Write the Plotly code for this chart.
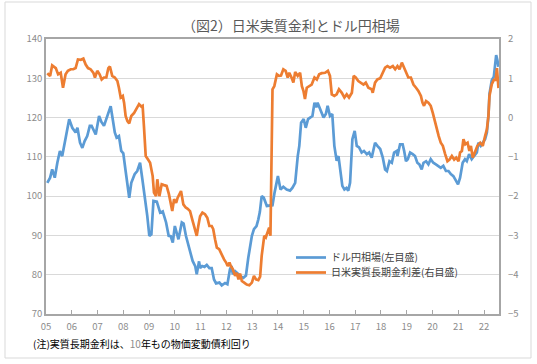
import plotly.graph_objects as go

# ---- data (decimal years) ----
usdjpy_t = [2005.05, 2005.16, 2005.24, 2005.34, 2005.44, 2005.54, 2005.63, 2005.72, 2005.83, 2005.90,
            2006.02, 2006.15, 2006.22, 2006.32, 2006.41, 2006.50, 2006.60, 2006.70, 2006.77, 2006.86, 2006.93,
            2007.06, 2007.15, 2007.25, 2007.38, 2007.51, 2007.57, 2007.67, 2007.74, 2007.83, 2007.92,
            2008.00, 2008.09, 2008.23, 2008.31, 2008.44, 2008.54, 2008.65, 2008.74, 2008.83, 2008.93,
            2009.01, 2009.09, 2009.17, 2009.30, 2009.43, 2009.53, 2009.66, 2009.76, 2009.84, 2009.92,
            2010.00, 2010.14, 2010.27, 2010.34, 2010.43, 2010.56, 2010.69, 2010.79, 2010.85, 2010.94, 2010.98,
            2011.06, 2011.15, 2011.24, 2011.34, 2011.43, 2011.52, 2011.60, 2011.73, 2011.82, 2011.95,
            2012.04, 2012.14, 2012.20, 2012.25, 2012.34, 2012.47, 2012.56, 2012.66, 2012.76, 2012.85, 2012.99,
            2013.07, 2013.17, 2013.24, 2013.30, 2013.37, 2013.45, 2013.57, 2013.68, 2013.79, 2013.87,
            2014.00, 2014.10, 2014.21, 2014.34, 2014.47, 2014.56, 2014.67, 2014.77, 2014.83, 2014.90,
            2015.00, 2015.08, 2015.17, 2015.25, 2015.34, 2015.42, 2015.49, 2015.54, 2015.68, 2015.77, 2015.86, 2015.93,
            2016.02, 2016.11, 2016.19, 2016.28, 2016.35, 2016.41, 2016.50, 2016.58, 2016.66, 2016.73, 2016.80, 2016.89, 2016.98,
            2017.06, 2017.15, 2017.25, 2017.34, 2017.45, 2017.54, 2017.64, 2017.72, 2017.77, 2017.86, 2017.97,
            2018.07, 2018.16, 2018.23, 2018.33, 2018.42, 2018.51, 2018.61, 2018.64, 2018.74, 2018.84, 2018.90, 2018.97,
            2019.04, 2019.13, 2019.23, 2019.32, 2019.41, 2019.49, 2019.58, 2019.65, 2019.75, 2019.84, 2019.93,
            2020.03, 2020.13, 2020.23, 2020.32, 2020.42, 2020.52, 2020.62, 2020.71, 2020.81, 2020.91, 2020.99,
            2021.07, 2021.17, 2021.26, 2021.33, 2021.42, 2021.52, 2021.61, 2021.72, 2021.78, 2021.87, 2021.95,
            2022.04, 2022.11, 2022.17, 2022.21, 2022.30, 2022.38, 2022.47, 2022.52, 2022.56]
usdjpy_v = [103.4, 104.7, 106.8, 104.7, 108.5, 111.5, 110.2, 113.6, 117.0, 119.6,
            117.4, 116.2, 117.4, 113.6, 112.3, 114.0, 115.3, 117.9, 117.9, 116.6, 115.7,
            120.4, 118.9, 117.9, 120.4, 122.9, 120.4, 116.2, 114.9, 115.3, 111.5,
            110.9, 106.4, 99.6, 103.4, 105.6, 106.4, 108.5, 104.3, 100.0, 95.0,
            89.9, 90.3, 98.8, 98.6, 95.8, 96.1, 93.3, 89.9, 89.8, 88.2,
            92.4, 89.0, 93.3, 93.0, 89.9, 86.5, 83.5, 82.2, 80.1, 83.4, 81.7,
            82.2, 82.0, 82.5, 81.7, 81.7, 78.8, 77.8, 78.0, 77.3, 77.9,
            77.6, 81.4, 82.2, 80.1, 80.9, 80.0, 79.6, 79.2, 79.8, 84.3, 89.9,
            91.6, 92.4, 94.1, 96.0, 100.0, 99.6, 97.5, 97.7, 97.7, 100.9,
            105.1, 101.7, 102.4, 101.7, 101.4, 102.1, 103.4, 110.2, 112.8, 118.7,
            119.6, 117.4, 119.6, 120.0, 120.4, 123.8, 122.6, 123.8, 121.3, 120.0, 120.9, 123.0,
            120.4, 120.9, 112.8, 109.0, 110.2, 106.8, 102.6, 101.7, 102.1, 101.4, 103.4, 114.5, 116.6,
            112.8, 112.4, 111.1, 111.5, 110.7, 111.1, 109.8, 112.8, 113.6, 112.8, 112.0,
            109.8, 106.8, 106.4, 108.9, 108.5, 111.1, 111.5, 110.2, 113.2, 113.2, 111.5, 108.9,
            109.4, 111.1, 110.7, 110.2, 108.5, 108.1, 106.8, 108.5, 108.9, 108.1, 109.4,
            108.5, 108.1, 107.7, 107.2, 107.7, 106.4, 106.4, 105.6, 105.1, 103.9, 103.0,
            104.7, 108.5, 109.4, 108.9, 110.7, 109.4, 110.2, 111.1, 113.6, 112.8, 113.6,
            114.5, 116.2, 120.4, 126.0, 129.5, 130.4, 135.9, 134.5, 132.9]

spread_t = [2005.05, 2005.16, 2005.24, 2005.38, 2005.47, 2005.57, 2005.66, 2005.76, 2005.85, 2005.96,
            2006.06, 2006.15, 2006.24, 2006.35, 2006.45, 2006.54, 2006.63, 2006.73, 2006.84, 2006.90, 2006.99,
            2007.08, 2007.16, 2007.25, 2007.34, 2007.42, 2007.48, 2007.57, 2007.67, 2007.77, 2007.83, 2007.90, 2007.98,
            2008.03, 2008.09, 2008.16, 2008.23, 2008.31, 2008.42, 2008.52, 2008.61, 2008.70, 2008.75, 2008.80, 2008.87, 2008.96,
            2009.04, 2009.14, 2009.19, 2009.27, 2009.32, 2009.40, 2009.49, 2009.58, 2009.68, 2009.77, 2009.84, 2009.90, 2009.97,
            2010.05, 2010.11, 2010.17, 2010.24, 2010.33, 2010.42, 2010.50, 2010.59, 2010.69, 2010.78, 2010.85, 2010.91, 2010.98,
            2011.07, 2011.17, 2011.26, 2011.34, 2011.43, 2011.49, 2011.56, 2011.63, 2011.72, 2011.78, 2011.86, 2011.91, 2011.99,
            2012.05, 2012.12, 2012.17, 2012.25, 2012.34, 2012.40, 2012.47, 2012.53, 2012.60, 2012.69, 2012.79, 2012.89, 2012.99,
            2013.07, 2013.15, 2013.24, 2013.31, 2013.37, 2013.47, 2013.53, 2013.61, 2013.66, 2013.71, 2013.76, 2013.79, 2013.86, 2013.96,
            2014.04, 2014.12, 2014.21, 2014.30, 2014.38, 2014.44, 2014.54, 2014.60, 2014.67, 2014.77, 2014.86, 2014.93, 2014.99,
            2015.05, 2015.12, 2015.21, 2015.31, 2015.42, 2015.51, 2015.60, 2015.70, 2015.83, 2015.94,
            2016.02, 2016.09, 2016.19, 2016.28, 2016.37, 2016.48, 2016.58, 2016.67, 2016.76, 2016.87, 2016.94,
            2017.02, 2017.12, 2017.23, 2017.32, 2017.41, 2017.51, 2017.64, 2017.68, 2017.77, 2017.86, 2017.97,
            2018.06, 2018.16, 2018.25, 2018.35, 2018.46, 2018.55, 2018.64, 2018.72, 2018.81, 2018.87, 2018.97,
            2019.06, 2019.16, 2019.26, 2019.36, 2019.45, 2019.55, 2019.61, 2019.67, 2019.75, 2019.84, 2019.93,
            2020.01, 2020.10, 2020.17, 2020.24, 2020.32, 2020.40, 2020.49, 2020.58, 2020.66, 2020.75, 2020.84, 2020.92,
            2021.01, 2021.07, 2021.14, 2021.20, 2021.27, 2021.36, 2021.43, 2021.49, 2021.56, 2021.65, 2021.74, 2021.85, 2021.95,
            2022.04, 2022.11, 2022.17, 2022.21, 2022.30, 2022.38, 2022.45, 2022.50, 2022.56]
spread_v = [1.13, 1.06, 1.33, 1.26, 1.10, 1.14, 0.76, 1.10, 1.19, 1.23,
            1.23, 1.26, 1.48, 1.47, 1.50, 1.35, 1.26, 1.23, 1.14, 1.02, 1.19,
            1.10, 0.97, 1.02, 1.02, 1.26, 1.30, 1.06, 1.02, 0.93, 0.76, 0.51, 0.55,
            0.38, 0.04, -0.09, -0.15, 0.04, 0.12, 0.25, 0.34, 0.28, 0.30, -0.21, -0.98, -1.07,
            -1.15, -1.49, -1.91, -2.00, -1.57, -2.00, -1.70, -1.72, -1.74, -1.95, -2.17, -2.38, -2.08,
            -2.17, -2.04, -1.95, -1.87, -2.21, -2.29, -2.32, -2.38, -2.63, -2.84, -3.01, -2.76, -2.51,
            -2.42, -2.46, -2.55, -2.76, -2.76, -2.84, -3.10, -3.31, -3.35, -3.44, -3.52, -3.61, -3.69,
            -3.78, -3.69, -3.78, -3.86, -4.03, -3.95, -4.12, -3.97, -4.16, -4.20, -4.25, -4.27, -4.20,
            -4.03, -4.12, -4.14, -4.05, -3.52, -3.01, -3.05, -2.89, -2.80, -3.01, 0.47, 0.72, 0.80, 1.10,
            1.06, 1.07, 1.23, 1.19, 1.02, 1.14, 1.00, 0.89, 1.16, 1.06, 1.14, 0.80, 0.68,
            0.47, 0.76, 0.80, 0.84, 1.02, 0.97, 1.10, 1.13, 1.14, 1.19,
            1.06, 0.59, 0.55, 0.59, 0.72, 0.63, 0.51, 0.59, 0.51, 0.63, 1.06,
            1.02, 0.93, 0.89, 0.84, 0.89, 0.76, 0.72, 0.63, 0.89, 0.97, 1.00,
            1.14, 1.27, 1.31, 1.27, 1.31, 1.23, 1.31, 1.23, 1.40, 1.31, 1.14,
            1.02, 1.02, 0.84, 0.76, 0.68, 0.55, 0.38, 0.30, 0.42, 0.38, 0.30,
            0.12, -0.13, -0.30, -0.47, -0.64, -0.72, -0.93, -1.11, -1.07, -0.98, -1.07, -1.02,
            -1.11, -0.89, -0.85, -0.55, -0.68, -0.64, -0.85, -0.72, -1.02, -0.85, -0.72, -0.64, -0.72,
            -0.47, -0.30, 0.04, 0.55, 0.85, 0.96, 0.96, 1.26, 0.75]

year_ticks = list(range(2005, 2023))
year_labels = ["05", "06", "07", "08", "09", "10", "11", "12", "13", "14",
               "15", "16", "17", "18", "19", "20", "21", "22"]

title_text = "（図2）日米実質金利とドル円相場"
name_usdjpy = "ドル円相場(左目盛)"
name_spread = "日米実質長期金利差(右目盛)"
note_text = "(注)実質長期金利は、<span style='color:#8c8c8c'>10</span>年もの物価変動債利回り"

FONT = "Noto Sans CJK JP, sans-serif"
W, H = 537, 364
L, R, T, B = 46, 38, 39, 50
pw, ph = W - L - R, H - T - B


def px(x):
    return (x - L) / pw


def py(y):
    return (H - B - y) / ph


fig = go.Figure()
fig.add_trace(go.Scatter(x=usdjpy_t, y=usdjpy_v, name=name_usdjpy, mode="lines",
                         line=dict(color="#5b9bd5", width=2.7), yaxis="y", legend="legend"))
fig.add_trace(go.Scatter(x=spread_t, y=spread_v, name=name_spread, mode="lines",
                         line=dict(color="#ed7d31", width=2.7), yaxis="y2", legend="legend2"))

leg_common = dict(xanchor="left", yanchor="top", bgcolor="rgba(255,255,255,0)",
                  font=dict(size=10, color="#404040"), itemwidth=30)

fig.update_layout(
    width=W, height=H,
    margin=dict(l=L, r=R, t=T, b=B),
    paper_bgcolor="white", plot_bgcolor="white",
    font=dict(family=FONT, size=10, color="#8c8c8c"),
    showlegend=True,
    legend=dict(x=px(291), y=py(243), **leg_common),
    legend2=dict(x=px(291), y=py(258), **leg_common),
    xaxis=dict(range=[2005, 2022.58], tickvals=year_ticks, ticktext=year_labels,
               showgrid=False, ticks="inside", ticklen=4, tickcolor="#a6a6a6",
               showline=True, linecolor="#a6a6a6", linewidth=1.5, mirror=True,
               zeroline=False, ticklabelstandoff=3, tickfont=dict(size=9.5, color="#8c8c8c")),
    yaxis=dict(range=[70, 140], dtick=10, showgrid=True, gridcolor="#d9d9d9", gridwidth=1.3,
               showline=True, linecolor="#a6a6a6", linewidth=1.5, mirror=True,
               zeroline=False, ticks="", tickfont=dict(size=9.5, color="#8c8c8c")),
    yaxis2=dict(range=[-5, 2], dtick=1, overlaying="y", side="right", showgrid=False,
                zeroline=False, showline=False, ticks="", ticklabelstandoff=8,
                tickfont=dict(size=9.5, color="#8c8c8c")),
)

fig.add_shape(type="rect", xref="paper", yref="paper",
              x0=px(5), x1=px(531), y0=py(358), y1=py(2),
              line=dict(color="#d9d9d9", width=1), layer="below")

fig.add_annotation(text=title_text, xref="paper", yref="paper", x=px(291), y=py(25),
                   xanchor="center", yanchor="middle", showarrow=False,
                   font=dict(family=FONT, size=14, color="#595959"))
fig.add_annotation(text=note_text, xref="paper", yref="paper", x=px(31), y=py(343),
                   xanchor="left", yanchor="middle", showarrow=False,
                   font=dict(family=FONT, size=10, color="#000000"))

fig.write_html("out.html", config={"displayModeBar": False},
               post_script="document.body.style.margin='0';")
